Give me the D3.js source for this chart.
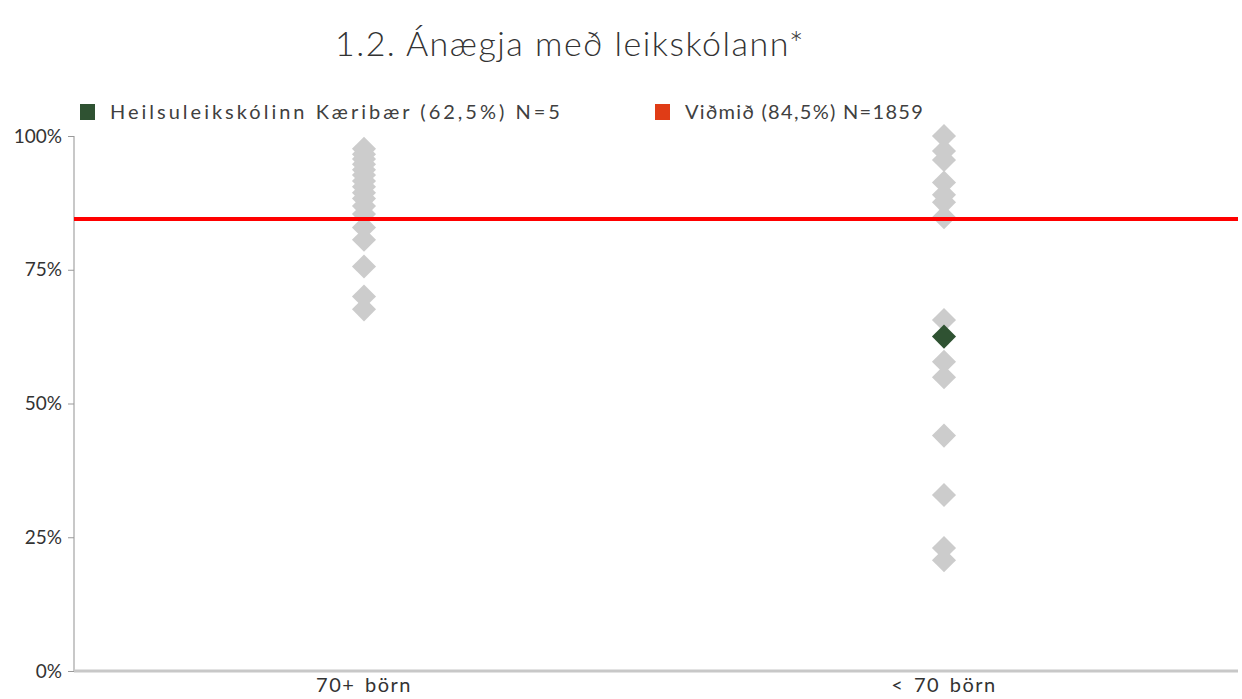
<!DOCTYPE html>
<html>
<head>
<meta charset="utf-8">
<script src="https://cdnjs.cloudflare.com/ajax/libs/d3/7.8.5/d3.min.js"></script>
<style>
  body { margin: 0; background: #fff; }
  svg { display: block; font-family: Lato, "Open Sans", sans-serif; }
</style>
</head>
<body>
<svg id="chart"></svg>
<script>
// Categories on the x axis
const categories = ["70+ börn", "< 70 börn"];

// Other kindergartens (grey diamonds), values in %
const others70plus = [97.6, 96.6, 95.7, 94.7, 93.7, 92.7, 91.6, 90.5, 89.4, 88.3, 86.9, 85.4, 82.9, 80.6, 75.6, 70.0, 67.6];
const othersUnder70 = [100, 97.2, 95.5, 91.3, 89.0, 87.6, 84.8, 65.6, 57.8, 54.9, 44.0, 32.9, 23.0, 20.7];

// The highlighted kindergarten
const schoolName = "Heilsuleikskólinn Kæribær";
const schoolValue = 62.5;
const schoolN = 5;
const schoolCategory = "< 70 börn";

// Reference value
const benchmarkValue = 84.5;
const benchmarkN = 1859;

const yTicks = [0, 25, 50, 75, 100];

const width = 1242;
const height = 699;
const margin = { top: 136, right: 8, bottom: 28, left: 74 };

const svg = d3.select("#chart")
    .attr("width", width)
    .attr("height", height);

const x = d3.scaleBand()
    .domain(categories)
    .range([margin.left, width - margin.right])
    .padding(0);

const y = d3.scaleLinear()
    .domain([0, 100])
    .range([height - margin.bottom, margin.top]);

// Title
svg.append("text")
    .attr("x", 570)
    .attr("y", 56)
    .attr("text-anchor", "middle")
    .style("font-size", "34px")
    .style("font-weight", 300)
    .style("letter-spacing", "1.5px")
    .style("fill", "#333")
    .text("1.2. Ánægja með leikskólann*");

// Legend
const legendItems = [
    { label: `${schoolName} (${String(schoolValue).replace(".", ",")}%) N=${schoolN}`, color: "#2f5232", x: 80, spacing: 3 },
    { label: `Viðmið (${String(benchmarkValue).replace(".", ",")}%) N=${benchmarkN}`, color: "#e03c16", x: 655, spacing: 1.3 }
];
const legend = svg.selectAll(".legend")
    .data(legendItems)
    .enter()
    .append("g")
    .attr("class", "legend")
    .attr("transform", d => `translate(${d.x}, 104)`);
legend.append("rect")
    .attr("width", 15)
    .attr("height", 16)
    .attr("fill", d => d.color);
legend.append("text")
    .attr("x", 30)
    .attr("y", 15)
    .style("font-size", "20px")
    .style("letter-spacing", d => d.spacing + "px")
    .style("fill", "#404040")
    .text(d => d.label);

// Y axis
const yAxis = svg.append("g")
    .attr("transform", `translate(${margin.left}, 0)`)
    .call(d3.axisLeft(y).tickValues(yTicks).tickSize(6).tickFormat(d => d + "%"));
yAxis.select(".domain").attr("stroke", "#c8c8c8").attr("stroke-width", 2).attr("d", `M0,${y(100)}V${y(0)}`);
yAxis.selectAll(".tick line").attr("stroke", "#999");
yAxis.selectAll(".tick text")
    .attr("x", -12)
    .style("font-size", "19px")
    .style("font-family", "Lato, sans-serif")
    .style("fill", "#333");

// X axis
const xAxis = svg.append("g")
    .attr("transform", `translate(0, ${y(0)})`)
    .call(d3.axisBottom(x).tickSize(0).tickPadding(7));
xAxis.select(".domain").attr("stroke", "#c8c8c8").attr("stroke-width", 3)
    .attr("d", `M${margin.left},0H${width - 4}`);
xAxis.selectAll(".tick text")
    .style("font-size", "20px")
    .style("font-family", "Lato, sans-serif")
    .style("letter-spacing", "1.5px")
    .style("word-spacing", "3px")
    .style("fill", "#333");

// Points
const points = [];
others70plus.forEach(v => points.push({ cat: categories[0], value: v, highlight: false }));
othersUnder70.forEach(v => points.push({ cat: categories[1], value: v, highlight: false }));
points.push({ cat: schoolCategory, value: schoolValue, highlight: true });

const diamond = d3.symbol().type(d3.symbolSquare).size(290);

svg.selectAll(".point")
    .data(points)
    .enter()
    .append("path")
    .attr("class", "point")
    .attr("d", diamond)
    .attr("transform", d => `translate(${x(d.cat) + x.bandwidth() / 2}, ${y(d.value)}) rotate(45)`)
    .attr("fill", d => d.highlight ? "#2f5232" : "#cccccc");

// Benchmark line
svg.append("line")
    .attr("x1", margin.left)
    .attr("x2", width - 4)
    .attr("y1", y(benchmarkValue))
    .attr("y2", y(benchmarkValue))
    .attr("stroke", "#ff0000")
    .attr("stroke-width", 4);

// keep highlighted point on top
svg.selectAll(".point").filter(d => d.highlight).raise();
</script>
</body>
</html>
